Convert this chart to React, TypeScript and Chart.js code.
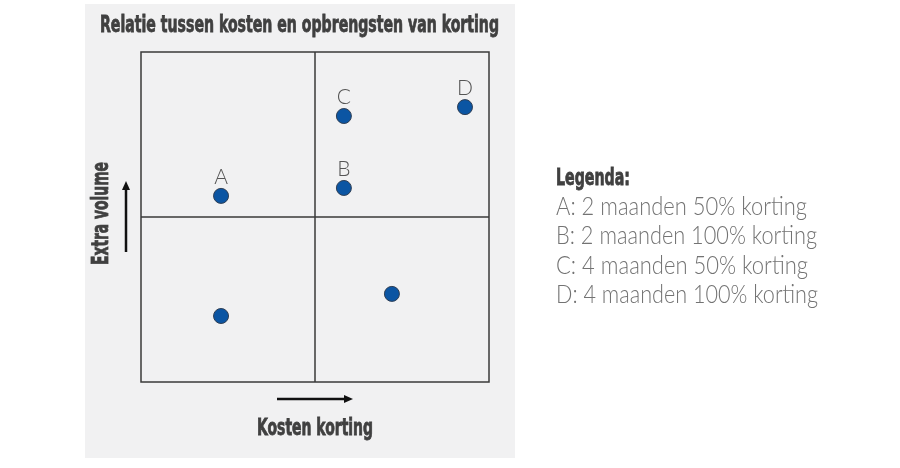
import React, { useEffect, useRef } from "react";
import { Chart, registerables } from "chart.js";
Chart.register(...registerables);

const pointLabels = ["A", "B", "C", "D", "", ""];
const xValues = [2.3, 5.83, 5.83, 9.31, 7.21, 2.3];
const yValues = [5.64, 5.88, 8.06, 8.33, 2.67, 2.0];
const chartTitle = "Relatie tussen kosten en opbrengsten van korting";
const xTitle = "Kosten korting";
const yTitle = "Extra volume";
const legendTitle = "Legenda:";
const legendItems = [
  "A: 2 maanden 50% korting",
  "B: 2 maanden 100% korting",
  "C: 4 maanden 50% korting",
  "D: 4 maanden 100% korting",
];

function fitText(ctx: CanvasRenderingContext2D, text: string, x: number, y: number, width: number, stroke = false) {
  const w = ctx.measureText(text).width;
  ctx.save();
  ctx.translate(x, y);
  ctx.scale(width / w, 1);
  ctx.fillText(text, 0, 0);
  if (stroke) ctx.strokeText(text, 0, 0);
  ctx.restore();
}

const decor = {
  id: "decor",
  beforeDraw(chart: any) {
    const ctx = chart.ctx as CanvasRenderingContext2D;
    ctx.save();
    ctx.fillStyle = "#ffffff";
    ctx.fillRect(0, 0, chart.width, chart.height);
    ctx.fillStyle = "#f1f1f2";
    ctx.fillRect(85, 4, 430, 454);
    ctx.restore();
  },
  beforeDatasetsDraw(chart: any) {
    const ctx = chart.ctx as CanvasRenderingContext2D;
    const { left, right, top, bottom } = chart.chartArea;
    const xs = chart.scales.x;
    const ys = chart.scales.y;
    const mx = xs.getPixelForValue(5);
    const my = ys.getPixelForValue(5);
    ctx.save();
    ctx.strokeStyle = "#3a3a3a";
    ctx.lineWidth = 1.5;
    ctx.strokeRect(left, top, right - left, bottom - top);
    ctx.beginPath();
    ctx.moveTo(mx, top);
    ctx.lineTo(mx, bottom);
    ctx.moveTo(left, my);
    ctx.lineTo(right, my);
    ctx.stroke();

    // titles
    ctx.fillStyle = "#404040";
    ctx.strokeStyle = "#404040";
    ctx.lineWidth = 0.8;
    ctx.textBaseline = "alphabetic";
    ctx.font = "bold 23px 'Liberation Sans Narrow', 'DejaVu Sans Condensed', sans-serif";
    fitText(ctx, chartTitle, 100, 32, 399, true);
    fitText(ctx, xTitle, 257, 435, 116, true);
    ctx.save();
    ctx.translate(108, 265);
    ctx.rotate(-Math.PI / 2);
    fitText(ctx, yTitle, 0, 0, 103, true);
    ctx.restore();

    // arrows
    ctx.strokeStyle = "#111111";
    ctx.fillStyle = "#111111";
    ctx.lineWidth = 2.5;
    ctx.beginPath();
    ctx.moveTo(277, 399);
    ctx.lineTo(346, 399);
    ctx.stroke();
    ctx.beginPath();
    ctx.moveTo(353, 399);
    ctx.lineTo(344, 395);
    ctx.lineTo(344, 403);
    ctx.closePath();
    ctx.fill();
    ctx.beginPath();
    ctx.moveTo(126, 252);
    ctx.lineTo(126, 188);
    ctx.stroke();
    ctx.beginPath();
    ctx.moveTo(126, 181);
    ctx.lineTo(122, 190);
    ctx.lineTo(130, 190);
    ctx.closePath();
    ctx.fill();

    // legend
    ctx.fillStyle = "#404040";
    ctx.strokeStyle = "#404040";
    ctx.lineWidth = 0.8;
    ctx.font = "bold 23px 'Liberation Sans Narrow', 'DejaVu Sans Condensed', sans-serif";
    fitText(ctx, legendTitle, 556, 185, 74, true);
    ctx.fillStyle = "#737373";
    ctx.font = "300 25px Lato, 'Open Sans', sans-serif";
    const widths = [251, 261, 252, 262];
    legendItems.forEach((t, i) => {
      fitText(ctx, t, 556, 215 + i * 29.3, widths[i]);
    });

    // point labels
    ctx.fillStyle = "#555555";
    ctx.font = "300 21px Lato, 'Open Sans', sans-serif";
    ctx.textAlign = "center";
    pointLabels.forEach((l, i) => {
      if (!l) return;
      const px = xs.getPixelForValue(xValues[i]);
      const py = ys.getPixelForValue(yValues[i]);
      ctx.fillText(l, px, py - 12);
    });
    ctx.restore();
  },
};

export default function App() {
  const ref = useRef<HTMLCanvasElement>(null);
  useEffect(() => {
    document.body.style.margin = "0";
    const chart = new Chart(ref.current!, {
      type: "scatter",
      data: {
        datasets: [
          {
            data: xValues.map((x, i) => ({ x, y: yValues[i] })),
            backgroundColor: "#0b55a3",
            borderColor: "#2f3f55",
            borderWidth: 1,
            pointRadius: 7.5,
          },
        ],
      },
      options: {
        animation: false,
        responsive: false,
        layout: { padding: { left: 141, top: 52, right: 411, bottom: 86 } },
        plugins: { legend: { display: false }, tooltip: { enabled: false }, title: { display: false } },
        scales: {
          x: { type: "linear", min: 0, max: 10, display: false },
          y: { type: "linear", min: 0, max: 10, display: false },
        },
      },
      plugins: [decor],
    });
    return () => chart.destroy();
  }, []);
  return (
    <div style={{ position: "absolute", left: 0, top: 0, width: 900, height: 468 }}>
      <canvas ref={ref} width={900} height={468} style={{ display: "block" }} />
    </div>
  );
}
